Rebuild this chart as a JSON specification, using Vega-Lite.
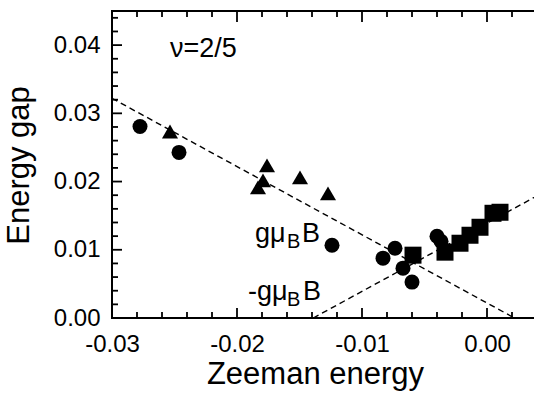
{
  "$schema": "https://vega.github.io/schema/vega-lite/v6.json",
  "width": 425,
  "height": 307,
  "autosize": "none",
  "padding": {"left": 112, "top": 11, "right": 0, "bottom": 79},
  "background": "white",
  "config": {
    "font": "Liberation Sans",
    "view": {"stroke": "black", "strokeWidth": 2},
    "axis": {
      "grid": false,
      "domain": false,
      "ticks": false,
      "labelColor": "black",
      "labelFont": "Liberation Sans",
      "labelFontSize": 24,
      "titleColor": "black",
      "titleFont": "Liberation Sans",
      "titleFontWeight": "normal",
      "titleFontSize": 31
    }
  },
  "datasets": {
    "pts": [
      {"series": "circle", "zeeman": -0.02776, "gap": 0.02807},
      {"series": "circle", "zeeman": -0.02464, "gap": 0.02427},
      {"series": "circle", "zeeman": -0.0124, "gap": 0.01067},
      {"series": "circle", "zeeman": -0.00832, "gap": 0.00877},
      {"series": "circle", "zeeman": -0.00736, "gap": 0.01023},
      {"series": "circle", "zeeman": -0.00672, "gap": 0.00731},
      {"series": "circle", "zeeman": -0.006, "gap": 0.00526},
      {"series": "circle", "zeeman": -0.004, "gap": 0.01199},
      {"series": "circle", "zeeman": -0.00368, "gap": 0.01126},
      {"series": "triangle", "zeeman": -0.02536, "gap": 0.02734},
      {"series": "triangle", "zeeman": -0.0176, "gap": 0.02237},
      {"series": "triangle", "zeeman": -0.01792, "gap": 0.02018},
      {"series": "triangle", "zeeman": -0.01832, "gap": 0.01915},
      {"series": "triangle", "zeeman": -0.01496, "gap": 0.02061},
      {"series": "triangle", "zeeman": -0.01272, "gap": 0.01827},
      {"series": "square", "zeeman": -0.00592, "gap": 0.00921},
      {"series": "square", "zeeman": -0.00336, "gap": 0.00965},
      {"series": "square", "zeeman": -0.00216, "gap": 0.01096},
      {"series": "square", "zeeman": -0.00136, "gap": 0.01213},
      {"series": "square", "zeeman": -0.00056, "gap": 0.0133},
      {"series": "square", "zeeman": 0.00048, "gap": 0.01535},
      {"series": "square", "zeeman": 0.00104, "gap": 0.0155}
    ],
    "lines": [
      {"line": "gmuB", "zeeman": -0.03, "gap": 0.0322},
      {"line": "gmuB", "zeeman": 0.0022, "gap": 0},
      {"line": "minus", "zeeman": -0.0139, "gap": 0},
      {"line": "minus", "zeeman": 0.004, "gap": 0.0179}
    ],
    "main": [
      {"label": "ν=2/5", "zeeman": -0.02536, "gap": 0.0383},
      {"label": "gμ", "zeeman": -0.01856, "gap": 0.01111},
      {"label": "B", "zeeman": -0.0148, "gap": 0.01111},
      {"label": "-gμ", "zeeman": -0.01912, "gap": 0.00263},
      {"label": "B", "zeeman": -0.01472, "gap": 0.00263}
    ],
    "sub": [
      {"label": "B", "zeeman": -0.016, "gap": 0.01023},
      {"label": "B", "zeeman": -0.016, "gap": 0.00175}
    ],
    "xmajor": [{"v": -0.03}, {"v": -0.02}, {"v": -0.01}, {"v": 0}],
    "xminor": [{"v": -0.028}, {"v": -0.026}, {"v": -0.024}, {"v": -0.022}, {"v": -0.018}, {"v": -0.016}, {"v": -0.014}, {"v": -0.012}, {"v": -0.008}, {"v": -0.006}, {"v": -0.004}, {"v": -0.002}, {"v": 0.002}],
    "ymajor": [{"v": 0}, {"v": 0.01}, {"v": 0.02}, {"v": 0.03}, {"v": 0.04}],
    "yminor": [{"v": 0.002}, {"v": 0.004}, {"v": 0.006}, {"v": 0.008}, {"v": 0.012}, {"v": 0.014}, {"v": 0.016}, {"v": 0.018}, {"v": 0.022}, {"v": 0.024}, {"v": 0.026}, {"v": 0.028}, {"v": 0.032}, {"v": 0.034}, {"v": 0.036}, {"v": 0.038}, {"v": 0.042}, {"v": 0.044}]
  },
  "layer": [
    {
      "data": {"name": "lines"},
      "mark": {"type": "line", "color": "black", "strokeWidth": 1.4, "strokeDash": [6, 4], "clip": true},
      "encoding": {
        "detail": {"field": "line"},
        "x": {
          "field": "zeeman", "type": "quantitative",
          "scale": {"domain": [-0.03, 0.004], "nice": false, "zero": false},
          "axis": {
            "orient": "bottom",
            "title": "Zeeman energy",
            "titleX": 203, "titleY": 65, "titleBaseline": "alphabetic", "titleAlign": "center",
            "values": [-0.03, -0.02, -0.01, 0],
            "labelExpr": "replace(format(datum.value, '.2f'), '\u2212', '-')",
            "labelPadding": 14,
            "labelFlush": false,
            "labelOverlap": false
          }
        },
        "y": {
          "field": "gap", "type": "quantitative",
          "scale": {"domain": [0, 0.045], "nice": false, "zero": false},
          "axis": {
            "orient": "left",
            "title": "Energy gap",
            "titleX": -84, "titleY": 154, "titleBaseline": "alphabetic", "titleAlign": "center", "titleAngle": -90,
            "values": [0, 0.01, 0.02, 0.03, 0.04],
            "format": ".2f",
            "labelPadding": 12,
            "labelFlush": false,
            "labelOverlap": false
          }
        }
      }
    },
    {
      "data": {"name": "xmajor"},
      "mark": {"type": "rule", "color": "black", "strokeWidth": 1.8, "y2Offset": -10},
      "encoding": {"x": {"field": "v", "type": "quantitative"}, "y": {"datum": 0, "type": "quantitative"}, "y2": {"datum": 0}}
    },
    {
      "data": {"name": "xminor"},
      "mark": {"type": "rule", "color": "black", "strokeWidth": 1.8, "y2Offset": -6},
      "encoding": {"x": {"field": "v", "type": "quantitative"}, "y": {"datum": 0, "type": "quantitative"}, "y2": {"datum": 0}}
    },
    {
      "data": {"name": "xmajor"},
      "mark": {"type": "rule", "color": "black", "strokeWidth": 1.8, "y2Offset": 11},
      "encoding": {"x": {"field": "v", "type": "quantitative"}, "y": {"datum": 0.045, "type": "quantitative"}, "y2": {"datum": 0.045}}
    },
    {
      "data": {"name": "xminor"},
      "mark": {"type": "rule", "color": "black", "strokeWidth": 1.8, "y2Offset": 6},
      "encoding": {"x": {"field": "v", "type": "quantitative"}, "y": {"datum": 0.045, "type": "quantitative"}, "y2": {"datum": 0.045}}
    },
    {
      "data": {"name": "ymajor"},
      "mark": {"type": "rule", "color": "black", "strokeWidth": 1.8, "x2Offset": 10},
      "encoding": {"y": {"field": "v", "type": "quantitative"}, "x": {"datum": -0.03, "type": "quantitative"}, "x2": {"datum": -0.03}}
    },
    {
      "data": {"name": "yminor"},
      "mark": {"type": "rule", "color": "black", "strokeWidth": 1.8, "x2Offset": 6},
      "encoding": {"y": {"field": "v", "type": "quantitative"}, "x": {"datum": -0.03, "type": "quantitative"}, "x2": {"datum": -0.03}}
    },
    {
      "data": {"name": "pts"},
      "mark": {"type": "point", "filled": true, "opacity": 1, "color": "black"},
      "encoding": {
        "x": {"field": "zeeman", "type": "quantitative"},
        "y": {"field": "gap", "type": "quantitative"},
        "shape": {
          "field": "series", "type": "nominal",
          "scale": {"domain": ["circle", "triangle", "square"], "range": ["circle", "triangle-up", "square"]},
          "legend": null
        },
        "size": {
          "field": "series", "type": "nominal",
          "scale": {"domain": ["circle", "triangle", "square"], "range": [225, 289, 225]},
          "legend": null
        }
      }
    },
    {
      "data": {"name": "main"},
      "mark": {"type": "text", "align": "left", "baseline": "alphabetic", "fontSize": 27, "font": "Liberation Sans", "color": "black"},
      "encoding": {
        "x": {"field": "zeeman", "type": "quantitative"},
        "y": {"field": "gap", "type": "quantitative"},
        "text": {"field": "label"}
      }
    },
    {
      "data": {"name": "sub"},
      "mark": {"type": "text", "align": "left", "baseline": "alphabetic", "fontSize": 20, "font": "Liberation Sans", "color": "black"},
      "encoding": {
        "x": {"field": "zeeman", "type": "quantitative"},
        "y": {"field": "gap", "type": "quantitative"},
        "text": {"field": "label"}
      }
    }
  ]
}
